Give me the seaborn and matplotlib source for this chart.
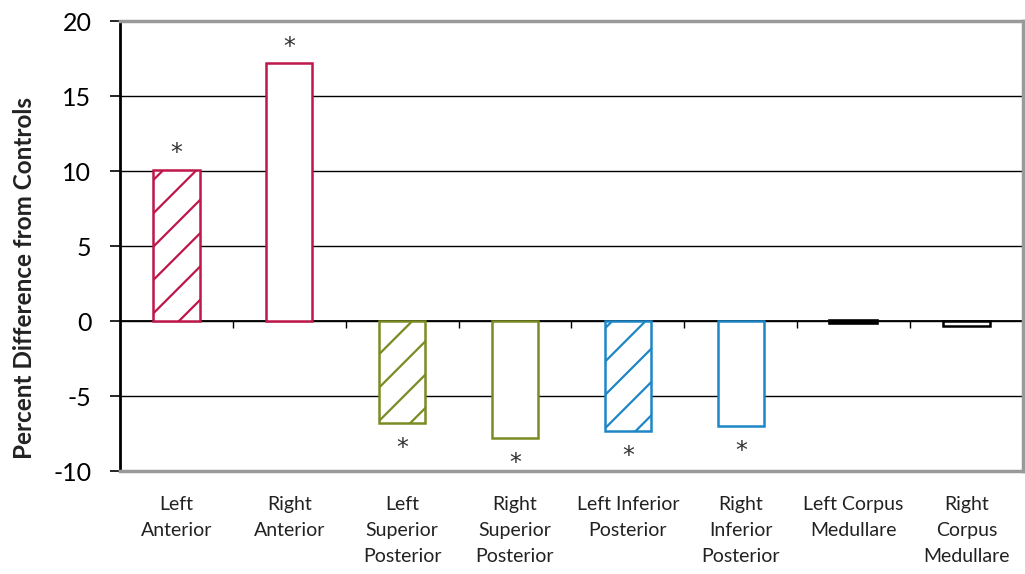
import numpy as np
import pandas as pd
import matplotlib
matplotlib.use("Agg")
import matplotlib.pyplot as plt
import seaborn as sns

# values
regions = ["Left\nAnterior", "Right\nAnterior", "Left\nSuperior\nPosterior",
           "Right\nSuperior\nPosterior", "Left Inferior\nPosterior",
           "Right\nInferior\nPosterior", "Left Corpus\nMedullare",
           "Right\nCorpus\nMedullare"]
pct_diff = [10.1, 17.2, -6.75, -7.75, -7.3, -6.95, -0.1, -0.35]
significant = [True, True, True, True, True, True, False, False]
hatched = [True, False, True, False, True, False, True, False]
edge_colors = ["#C0174B", "#C0174B", "#7B8B22", "#7B8B22",
               "#1D86C6", "#1D86C6", "#000000", "#000000"]
y_ticks = [-10, -5, 0, 5, 10, 15, 20]

sns.set_style("white")
plt.rcParams['font.family'] = ['Lato', 'DejaVu Sans']
plt.rcParams['hatch.linewidth'] = 1.6
plt.rcParams['axes.unicode_minus'] = False

fig = plt.figure(figsize=(10.25, 5.74), dpi=100)
ax = fig.add_axes([0.117, 0.179, 0.881, 0.784])

df = pd.DataFrame({"region": regions, "pct": pct_diff})
sns.barplot(data=df, x="region", y="pct", hue="region", palette=edge_colors,
            saturation=1, width=0.41, linewidth=1.8, legend=False, ax=ax)

# outline-only bars with white fill, hatch on the "Left" ones
for p, col, h in zip(ax.patches, edge_colors, hatched):
    p.set_edgecolor(col)
    p.set_facecolor("white")
    if h:
        p.set_hatch("/")
ax.patches[6].set_linewidth(2.6)

# significance stars
for i, (v, s) in enumerate(zip(pct_diff, significant)):
    if s:
        off = 12 if v > 0 else -18.5
        ax.annotate("*", (i, v), xytext=(0, off), textcoords="offset points",
                    ha="center", va="center", fontsize=17, color="#333333",
                    family="DejaVu Sans")

ax.set_ylim(-10, 20)
ax.set_xlim(-0.5, len(regions) - 0.5)
ax.set_yticks(y_ticks)
ax.set_yticklabels([str(t) for t in y_ticks])
ax.set_axisbelow(True)
ax.yaxis.grid(True, color="black", linewidth=1.0)
ax.axhline(0, color="black", linewidth=1.3, zorder=0.8)
ax.plot(np.arange(len(regions) - 1) + 0.5, np.zeros(len(regions) - 1),
        marker=3, ls="none", ms=5, mew=1, color="black", zorder=0.9)

ax.tick_params(axis="y", direction="out", length=7.5, width=1.2, pad=13,
               labelsize=18, left=True, colors="black")
ax.tick_params(axis="x", length=0, pad=18, labelsize=14)
for lab in ax.get_xticklabels():
    lab.set_linespacing(1.62)
    lab.set_color("#222222")

ax.spines["left"].set_color("black")
ax.spines["left"].set_linewidth(2)
for side in ["top", "bottom", "right"]:
    ax.spines[side].set_color("#999999")
    ax.spines[side].set_linewidth(2.5)

ax.set_xlabel("")
ax.set_ylabel("Percent Difference from Controls", fontsize=17.5,
              fontweight="bold", color="#222222")
ax.yaxis.set_label_coords(-0.093, 0.43)

fig.savefig("out.png", dpi=100)
